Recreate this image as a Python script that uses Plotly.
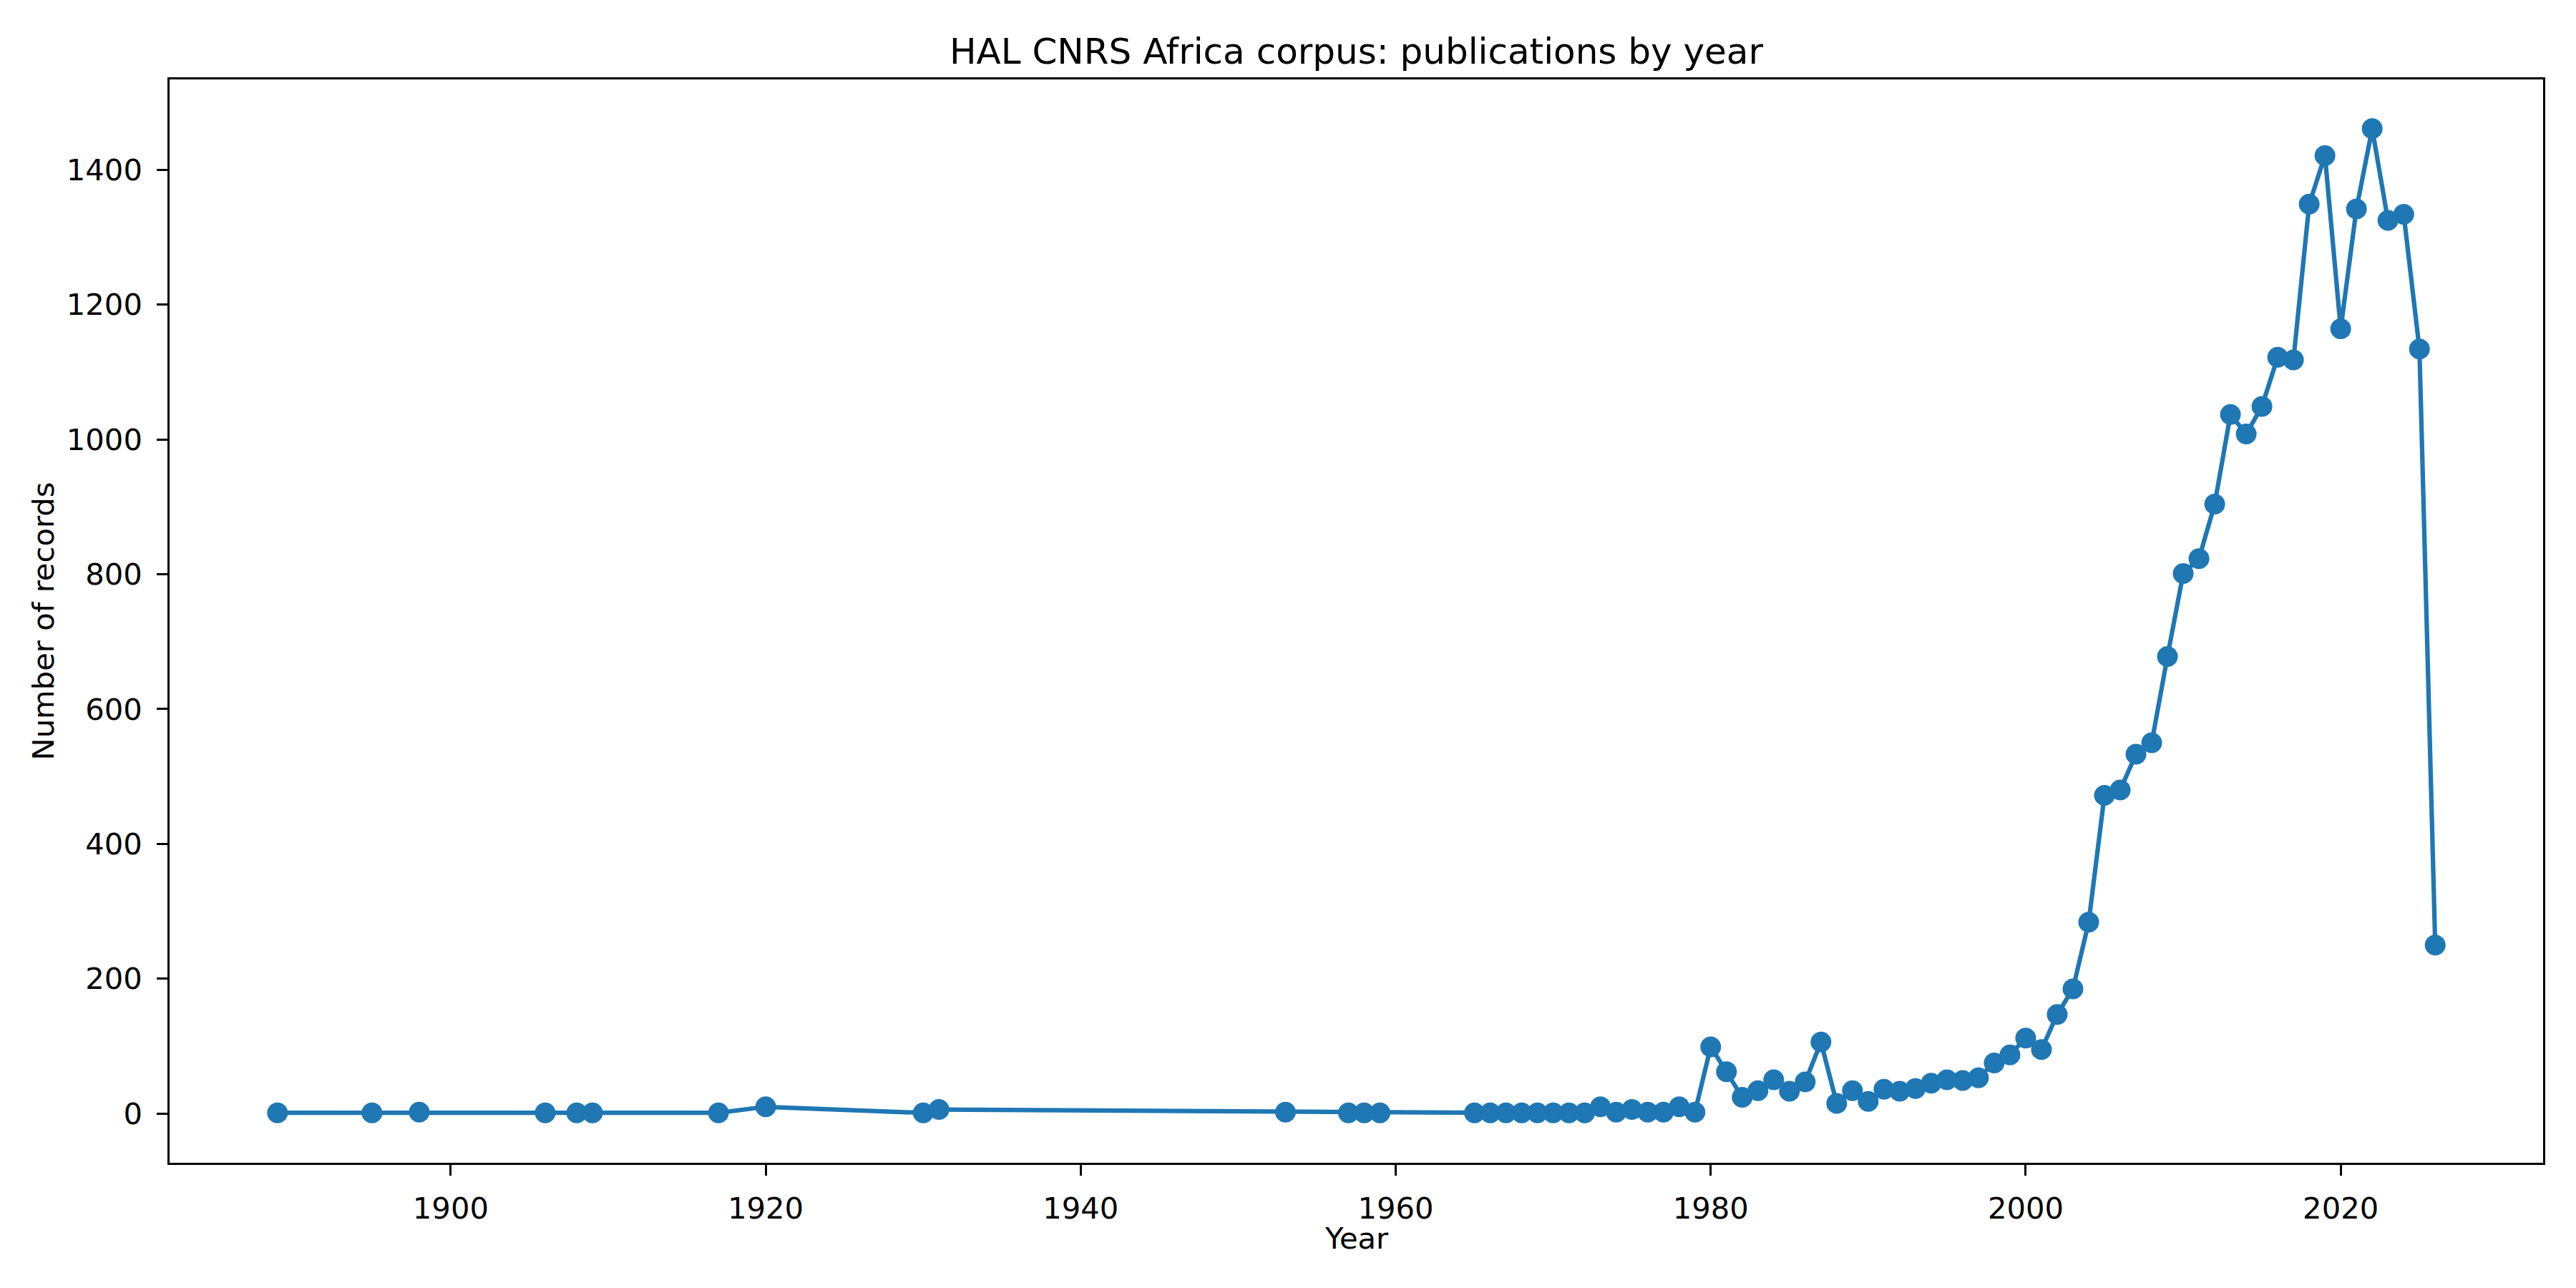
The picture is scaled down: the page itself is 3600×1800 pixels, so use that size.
import plotly.graph_objects as go

years = [1889, 1895, 1898, 1906, 1908, 1909, 1917, 1920, 1930, 1931, 1953, 1957, 1958, 1959,
         1965, 1966, 1967, 1968, 1969, 1970, 1971, 1972, 1973, 1974, 1975, 1976, 1977, 1978, 1979,
         1980, 1981, 1982, 1983, 1984, 1985, 1986, 1987, 1988, 1989, 1990, 1991, 1992, 1993, 1994,
         1995, 1996, 1997, 1998, 1999, 2000, 2001, 2002, 2003, 2004, 2005, 2006, 2007, 2008, 2009,
         2010, 2011, 2012, 2013, 2014, 2015, 2016, 2017, 2018, 2019, 2020, 2021, 2022, 2023, 2024,
         2025, 2026]
records = [1, 1, 2, 1, 1, 1, 1, 10, 1, 6, 2, 1, 1, 1,
           1, 1, 1, 1, 1, 1, 1, 1, 10, 2, 6, 2, 2, 10, 2,
           99, 62, 24, 34, 50, 33, 47, 106, 15, 34, 18, 36, 33, 37, 45,
           50, 49, 53, 75, 87, 112, 95, 147, 185, 284, 472, 480, 533, 550, 678,
           801, 823, 904, 1037, 1008, 1049, 1122, 1118, 1349, 1421, 1164, 1342, 1461, 1325, 1334,
           1134, 250]

x_ticks = [1900, 1920, 1940, 1960, 1980, 2000, 2020]
y_ticks = [0, 200, 400, 600, 800, 1000, 1200, 1400]

title = "HAL CNRS Africa corpus: publications by year"
x_label = "Year"
y_label = "Number of records"

color = "#1f77b4"
font = "DejaVu Sans"
W, H = 3600, 1800
L, R, T, B = 237, 3554, 111, 1625

fig = go.Figure(go.Scatter(
    x=years, y=records, mode="lines+markers",
    line=dict(color=color, width=6.25),
    marker=dict(color=color, size=29, line=dict(width=0)),
    showlegend=False,
))

xmin, xmax = min(years), max(years)
ymin, ymax = 0, max(records)
xpad = 0.05 * (xmax - xmin)
ypad = 0.05 * (ymax - ymin)

axis_common = dict(
    showgrid=False, zeroline=False, showline=True, linecolor="black", linewidth=3.3,
    mirror=True, ticks="outside", ticklen=14.6, tickwidth=3.3, tickcolor="black",
    tickfont=dict(family=font, size=41.7, color="black"),
    title_font=dict(family=font, size=41.7, color="black"),
)

fig.update_layout(
    width=W, height=H,
    margin=dict(l=L, r=W - R, t=T, b=H - B, pad=0),
    paper_bgcolor="white", plot_bgcolor="white",
    title=dict(text=title, x=(L + R) / 2 / W, xanchor="center",
               y=1 - 71 / H, yanchor="middle",
               font=dict(family=font, size=50, color="black")),
    xaxis=dict(range=[xmin - xpad, xmax + xpad], tickvals=x_ticks,
               ticktext=[str(v) for v in x_ticks],
               ticklabelstandoff=10, **axis_common),
    yaxis=dict(range=[ymin - ypad, ymax + ypad], tickvals=y_ticks,
               ticktext=[str(v) for v in y_ticks],
               title=dict(text=y_label, standoff=5), ticklabelstandoff=12, **axis_common),
    annotations=[dict(text=x_label, xref="paper", yref="paper", x=0.5, xanchor="center",
                      y=-(1730 - B) / (B - T), yanchor="middle", showarrow=False,
                      font=dict(family=font, size=41.7, color="black"))],
)

fig.write_html("out.html")
